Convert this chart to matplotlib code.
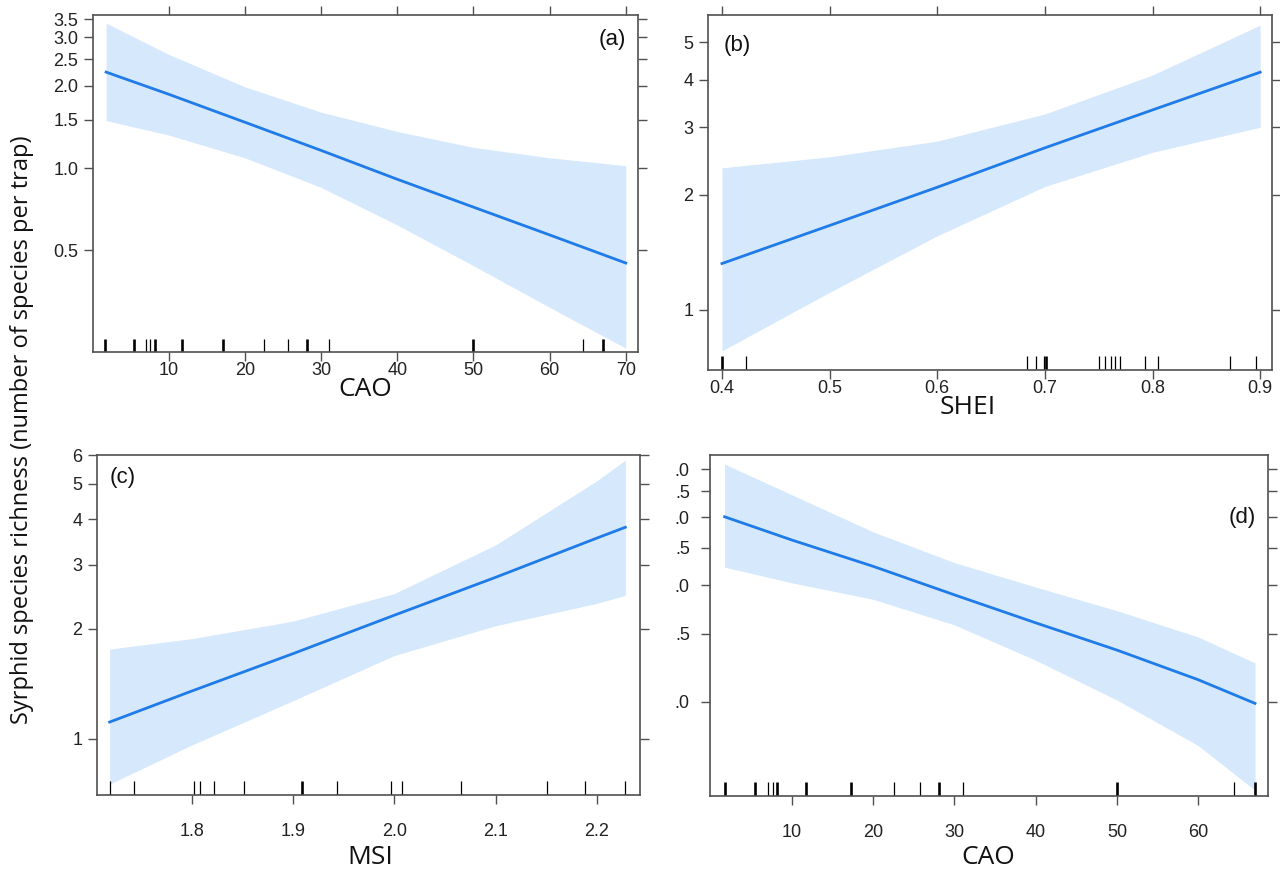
import numpy as np
import matplotlib
matplotlib.use('Agg')
import matplotlib.pyplot as plt
from matplotlib.ticker import NullLocator

plt.rcParams['font.family'] = ['Liberation Sans Narrow', 'Liberation Sans', 'DejaVu Sans']

W, H = 1280, 875
LINE_COLOR = '#1f7be8'
BAND_COLOR = '#d6e8fb'
AXIS_COLOR = '#505050'

# (a) CAO
cao_a_x = [1.8, 10, 20, 30, 40, 50, 60, 70]
cao_a_fit = [2.24, 1.86, 1.47, 1.16, 0.91, 0.72, 0.57, 0.45]
cao_a_upper = [3.38, 2.60, 1.98, 1.60, 1.36, 1.19, 1.09, 1.02]
cao_a_lower = [1.49, 1.32, 1.09, 0.85, 0.62, 0.44, 0.31, 0.22]

# (b) SHEI
shei_x = [0.4, 0.5, 0.6, 0.7, 0.8, 0.9]
shei_fit = [1.32, 1.66, 2.09, 2.65, 3.33, 4.18]
shei_upper = [2.35, 2.51, 2.76, 3.25, 4.11, 5.55]
shei_lower = [0.78, 1.11, 1.56, 2.10, 2.58, 3.00]

# (c) MSI
msi_x = [1.719, 1.8, 1.9, 2.0, 2.1, 2.2, 2.228]
msi_fit = [1.11, 1.35, 1.71, 2.18, 2.77, 3.55, 3.80]
msi_upper = [1.76, 1.88, 2.10, 2.50, 3.40, 5.10, 5.81]
msi_lower = [0.75, 0.96, 1.27, 1.69, 2.04, 2.35, 2.47]

# (d) CAO
cao_d_x = [1.7, 10, 20, 30, 40, 50, 60, 67]
cao_d_fit = [3.01, 2.62, 2.24, 1.89, 1.60, 1.36, 1.14, 0.99]
cao_d_upper = [4.12, 3.43, 2.75, 2.29, 1.98, 1.72, 1.47, 1.26]
cao_d_lower = [2.23, 2.03, 1.84, 1.58, 1.28, 1.01, 0.77, 0.59]

# rug values (repeats = stacked observations)
cao_rug = [1.7, 1.7, 5.5, 5.5, 7.0, 7.6, 8.2, 8.2, 11.7, 11.7, 17.2, 17.2, 22.5,
           25.7, 28.1, 28.1, 31.0, 50.0, 50.0, 64.4, 67.0, 67.0]
shei_rug = [0.400, 0.400, 0.422, 0.683, 0.692, 0.699, 0.701, 0.701, 0.750, 0.756,
            0.761, 0.765, 0.770, 0.793, 0.805, 0.872, 0.896]
msi_rug = [1.719, 1.743, 1.802, 1.808, 1.822, 1.852, 1.909, 1.909, 1.943, 1.997,
           2.008, 2.066, 2.151, 2.188, 2.228]

cao_ticks = [10, 20, 30, 40, 50, 60, 70]
cao_tick_labels = ['10', '20', '30', '40', '50', '60', '70']
shei_ticks = [0.4, 0.5, 0.6, 0.7, 0.8, 0.9]
shei_tick_labels = ['0.4', '0.5', '0.6', '0.7', '0.8', '0.9']
msi_ticks = [1.8, 1.9, 2.0, 2.1, 2.2]
msi_tick_labels = ['1.8', '1.9', '2.0', '2.1', '2.2']
cao_d_ticks = [10, 20, 30, 40, 50, 60]
cao_d_tick_labels = ['10', '20', '30', '40', '50', '60']

a_yticks = [0.5, 1.0, 1.5, 2.0, 2.5, 3.0, 3.5]
a_ylabels = ['0.5', '1.0', '1.5', '2.0', '2.5', '3.0', '3.5']
b_yticks = [1, 2, 3, 4, 5]
b_ylabels = ['1', '2', '3', '4', '5']
c_yticks = [1, 2, 3, 4, 5, 6]
c_ylabels = ['1', '2', '3', '4', '5', '6']
d_yticks = [1.0, 1.5, 2.0, 2.5, 3.0, 3.5, 4.0]
d_ylabels = ['.0', '.5', '.0', '.5', '.0', '.5', '.0']


def box(l, t, r, b):
    return [l / W, 1 - b / H, (r - l) / W, (b - t) / H]


def draw_panel(ax, x, fit, lower, upper, rug, xlim, ylim, xticks, xlabels,
               yticks, ylabels, xpad, ypad, top=True):
    ax.fill_between(x, lower, upper, color=BAND_COLOR, lw=0)
    ax.plot(x, fit, color=LINE_COLOR, lw=2.0)
    vals, counts = np.unique(rug, return_counts=True)
    ax.vlines(vals, 0, 0.04, transform=ax.get_xaxis_transform(),
              colors='black', linewidths=0.9 + 1.0 * (counts - 1))
    ax.set_yscale('log')
    ax.set_xlim(xlim)
    ax.set_ylim(ylim)
    ax.set_xticks(xticks)
    ax.set_xticklabels(xlabels)
    ax.set_yticks(yticks)
    ax.set_yticklabels(ylabels)
    ax.yaxis.set_minor_locator(NullLocator())
    ax.xaxis.set_minor_locator(NullLocator())
    ax.tick_params(direction='out', length=6.5, width=1, colors=AXIS_COLOR,
                   labelcolor='#222222', labelsize=13, top=top, right=True,
                   labeltop=False, labelright=False)
    ax.tick_params(axis='x', pad=xpad)
    ax.tick_params(axis='y', pad=ypad)
    for s in ax.spines.values():
        s.set_color(AXIS_COLOR)
        s.set_linewidth(1.2)


fig = plt.figure(figsize=(12.8, 8.75), dpi=100)

ax_a = fig.add_axes(box(93, 15, 638, 352))
draw_panel(ax_a, cao_a_x, cao_a_fit, cao_a_lower, cao_a_upper, cao_rug,
           (0.08, 71.6), (0.213, 3.62), cao_ticks, cao_tick_labels,
           a_yticks, a_ylabels, 0.5, 4)

ax_b = fig.add_axes(box(708, 15, 1272, 370))
draw_panel(ax_b, shei_x, shei_fit, shei_lower, shei_upper, shei_rug,
           (0.387, 0.911), (0.695, 5.9), shei_ticks, shei_tick_labels,
           b_yticks, b_ylabels, 0.5, 4)

ax_c = fig.add_axes(box(97, 455, 640, 795))
draw_panel(ax_c, msi_x, msi_fit, msi_lower, msi_upper, msi_rug,
           (1.7065, 2.2425), (0.70, 6.0), msi_ticks, msi_tick_labels,
           c_yticks, c_ylabels, 14, 4, top=False)

ax_d = fig.add_axes(box(710, 455, 1268, 796))
draw_panel(ax_d, cao_d_x, cao_d_fit, cao_d_lower, cao_d_upper, cao_rug,
           (-0.1, 68.6), (0.57, 4.35), cao_d_ticks, cao_d_tick_labels,
           d_yticks, d_ylabels, 14, 8, top=False)

label_font = dict(family=['Open Sans', 'DejaVu Sans'], fontsize=19, color='#111111',
                  ha='center', va='center')
fig.text(365 / W, 1 - 390 / H, 'CAO', **label_font)
fig.text(968 / W, 1 - 408 / H, 'SHEI', **label_font)
fig.text(370 / W, 1 - 858 / H, 'MSI', **label_font)
fig.text(988 / W, 1 - 858 / H, 'CAO', **label_font)

fig.text(22 / W, 1 - 430 / H, 'Syrphid species richness (number of species per trap)',
         family=['Open Sans', 'DejaVu Sans'], fontsize=17, color='#111111',
         rotation=90, ha='center', va='center')

letter_font = dict(family=['Liberation Sans', 'DejaVu Sans'], fontsize=16, color='#111111',
                   va='center')
fig.text(626 / W, 1 - 40 / H, '(a)', ha='right', **letter_font)
fig.text(724 / W, 1 - 45 / H, '(b)', ha='left', **letter_font)
fig.text(110 / W, 1 - 477 / H, '(c)', ha='left', **letter_font)
fig.text(1256 / W, 1 - 517 / H, '(d)', ha='right', **letter_font)

fig.savefig('out.png', dpi=100)
